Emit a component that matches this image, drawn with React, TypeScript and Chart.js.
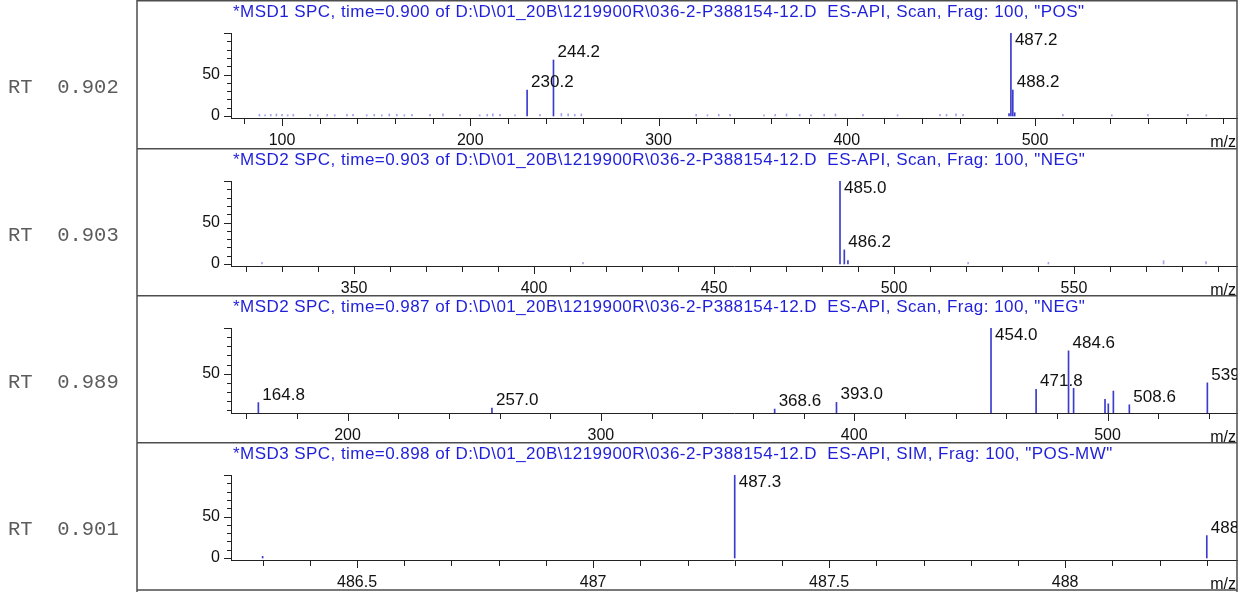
import React, { useEffect, useRef } from "react";
import { Chart, registerables } from "chart.js";

Chart.register(...registerables);

const FONT = '"Liberation Sans", Arial, sans-serif';
const MONO = '"Liberation Mono", "Courier New", monospace';
const PEAK_COLOR = "#3b3bcc";
const NOISE_COLOR = "#a4a4ee";
const TITLE_COLOR = "#1f1fd9";

// ---------- Panel 1 ----------
const P1_TITLE = '*MSD1 SPC, time=0.900 of D:\\D\\01_20B\\1219900R\\036-2-P388154-12.D  ES-API, Scan, Frag: 100, "POS"';
const P1_RT = "RT  0.902";
const P1_PEAK_MZ = [230.2, 244.2, 486.2, 487.2, 488.2, 489.2];
const P1_PEAK_INT = [31.3, 67.5, 3, 100, 31.3, 4];
const P1_PEAK_LABEL = ["230.2", "244.2", "", "487.2", "488.2", ""];
const P1_NOISE_MZ = [88, 91, 94, 97, 100, 103, 106, 115, 119, 124, 128, 134.5, 137.7, 145, 149, 153, 157, 161, 165, 169, 178.6, 185.5, 194.6, 205, 209, 212, 215.8, 223.8, 237, 248.4, 252, 255.5, 259, 320, 326, 332, 338, 356, 362, 368, 375, 381, 388, 394, 408.6, 427, 449.5, 453, 458, 461.8, 514.8, 540.8, 560, 581.2, 591];
const P1_NOISE_INT = [2, 1.5, 2, 2.5, 2, 1.5, 2, 2, 1.5, 2, 1.5, 2, 2, 1.5, 2, 1.5, 2.5, 2, 1.5, 2, 2, 2.5, 2, 1.5, 2, 2.5, 2, 1.5, 2, 3, 2.5, 2, 2.5, 2, 1.5, 2, 2, 1.5, 2, 2.5, 2, 1.5, 2, 2.5, 2, 1.5, 2, 2, 2.5, 2, 2, 1.5, 2, 2, 1.5];
const P1_X_RANGE = [72.9, 607.3];
const P1_X_STEP = 20;
const P1_X_LABELS = [100, 200, 300, 400, 500];

// ---------- Panel 2 ----------
const P2_TITLE = '*MSD2 SPC, time=0.903 of D:\\D\\01_20B\\1219900R\\036-2-P388154-12.D  ES-API, Scan, Frag: 100, "NEG"';
const P2_RT = "RT  0.903";
const P2_PEAK_MZ = [485.0, 486.2, 487.2];
const P2_PEAK_INT = [100, 17, 4];
const P2_PEAK_LABEL = ["485.0", "486.2", ""];
const P2_NOISE_MZ = [324.4, 413.6, 520.6, 542.9, 574.9, 586.7];
const P2_NOISE_INT = [2, 2, 2, 2, 4, 3];
const P2_X_RANGE = [315.8, 595.3];
const P2_X_STEP = 10;
const P2_X_LABELS = [350, 400, 450, 500, 550];

// ---------- Panel 3 ----------
const P3_TITLE = '*MSD2 SPC, time=0.987 of D:\\D\\01_20B\\1219900R\\036-2-P388154-12.D  ES-API, Scan, Frag: 100, "NEG"';
const P3_RT = "RT  0.989";
const P3_PEAK_MZ = [164.8, 257.0, 368.6, 393.0, 454.0, 471.8, 484.6, 486.6, 499.0, 500.3, 502.3, 508.6, 539.4];
const P3_PEAK_INT = [18.4, 12.5, 11.3, 18.6, 100, 33, 75, 34, 22, 17, 31, 16, 40];
const P3_PEAK_LABEL = ["164.8", "257.0", "368.6", "393.0", "454.0", "471.8", "484.6", "", "", "", "", "508.6", "539.4"];
const P3_NOISE_MZ: number[] = [];
const P3_NOISE_INT: number[] = [];
const P3_X_RANGE = [154.0, 551.1];
const P3_X_STEP = 20;
const P3_X_LABELS = [200, 300, 400, 500];

// ---------- Panel 4 ----------
const P4_TITLE = '*MSD3 SPC, time=0.898 of D:\\D\\01_20B\\1219900R\\036-2-P388154-12.D  ES-API, SIM, Frag: 100, "POS-MW"';
const P4_RT = "RT  0.901";
const P4_PEAK_MZ = [486.3, 487.3, 488.3];
const P4_PEAK_INT = [2, 100, 27];
const P4_PEAK_LABEL = ["", "487.3", "488.3"];
const P4_NOISE_MZ: number[] = [];
const P4_NOISE_INT: number[] = [];
const P4_X_RANGE = [486.233, 488.364];
const P4_X_STEP = 0.1;
const P4_X_LABELS = [486.5, 487, 487.5, 488];

// ---------- Y axes ----------
const Y_RANGE_FULL = [-2.4, 100];
const Y_RANGE_ZOOM = [7, 100];
const Y_STEP = 10;
const Y_LABELS_FULL = [0, 50];
const Y_MAJOR_FULL = [0, 50, 100];
const Y_LABELS_ZOOM = [50];
const Y_MAJOR_ZOOM = [50, 100];

const PLOT_TOP = 33;
const AXIS_Y = 118;
const AXIS_LEFT = 231;
const BOX_LEFT = 137;
const BOX_RIGHT = 1237;
const WIDTH = 1244;
const LABEL_SIZE = 17;

function stepTicks(min: number, max: number, step: number) {
  const out: { value: number }[] = [];
  const k0 = Math.ceil(min / step - 1e-9);
  const k1 = Math.floor(max / step + 1e-9);
  for (let k = k0; k <= k1; k++) out.push({ value: +(k * step).toFixed(6) });
  return out;
}
const isIn = (arr: number[], v: number) => arr.some((a) => Math.abs(a - v) < 1e-6);
const fmt = (v: number) => String(+v.toFixed(6));

type PanelProps = {
  top: number;
  height: number;
  title: string;
  rt: string;
  peakMz: number[];
  peakInt: number[];
  peakLabel: string[];
  noiseMz: number[];
  noiseInt: number[];
  xRange: number[];
  xStep: number;
  xLabels: number[];
  yRange: number[];
  yLabels: number[];
  yMajor: number[];
  last?: boolean;
};

function Panel(p: PanelProps) {
  const ref = useRef<HTMLCanvasElement | null>(null);
  useEffect(() => {
    if (!ref.current) return;
    const H = p.height;
    const decor = {
      id: "decor",
      afterDraw(chart: any) {
        const ctx = chart.ctx as CanvasRenderingContext2D;
        const ca = chart.chartArea;
        const xs = chart.scales.x;
        const ys = chart.scales.y;
        ctx.save();
        // tick marks
        ctx.strokeStyle = "#222";
        ctx.lineWidth = 1;
        ctx.beginPath();
        xs.ticks.forEach((t: any) => {
          const px = Math.round(xs.getPixelForValue(t.value)) + 0.5;
          const len = isIn(p.xLabels, t.value) ? 8 : 6;
          ctx.moveTo(px, ca.bottom);
          ctx.lineTo(px, ca.bottom + len);
        });
        ys.ticks.forEach((t: any) => {
          const py = Math.round(ys.getPixelForValue(t.value)) + 0.5;
          const len = isIn(p.yMajor, t.value) ? 7 : 4;
          ctx.moveTo(ca.left - len, py);
          ctx.lineTo(ca.left, py);
        });
        ctx.stroke();

        // frame
        ctx.strokeStyle = "#4d4d4d";
        ctx.lineWidth = 1.5;
        ctx.beginPath();
        ctx.moveTo(BOX_LEFT, 0);
        ctx.lineTo(BOX_LEFT, H);
        ctx.moveTo(BOX_RIGHT, 0);
        ctx.lineTo(BOX_RIGHT, H);
        ctx.moveTo(BOX_LEFT, 0.75);
        ctx.lineTo(BOX_RIGHT, 0.75);
        if (p.last) {
          ctx.moveTo(BOX_LEFT, H - 2);
          ctx.lineTo(BOX_RIGHT, H - 2);
        }
        ctx.stroke();

        // title
        ctx.font = `17px ${FONT}`;
        (ctx as any).letterSpacing = "0.45px";
        ctx.fillStyle = TITLE_COLOR;
        ctx.textAlign = "left";
        ctx.textBaseline = "alphabetic";
        ctx.fillText(p.title, 233, 16.5);
        (ctx as any).letterSpacing = "0px";

        // m/z
        ctx.font = `16px ${FONT}`;
        ctx.fillStyle = "#111";
        ctx.textAlign = "right";
        ctx.fillText("m/z", BOX_RIGHT - 1, 146.5);

        // RT label
        ctx.font = `20.5px ${MONO}`;
        ctx.fillStyle = "#5c5c5c";
        ctx.textAlign = "left";
        ctx.fillText(p.rt, 8, 93.3);

        // peak labels
        ctx.beginPath();
        ctx.rect(BOX_LEFT, 0, BOX_RIGHT - BOX_LEFT, H);
        ctx.clip();
        ctx.font = `${LABEL_SIZE}px ${FONT}`;
        ctx.fillStyle = "#111";
        ctx.textAlign = "left";
        const meta = chart.getDatasetMeta(1);
        const cap = LABEL_SIZE * 0.72;
        meta.data.forEach((el: any, i: number) => {
          const lab = p.peakLabel[i];
          if (!lab) return;
          const { x, y } = el.getProps(["x", "y"], true);
          let base = y - 3;
          if (base - cap < ca.top) base = ca.top + cap;
          ctx.fillText(lab, x + 4, base);
        });
        ctx.restore();
      },
    };

    const chart = new Chart(ref.current, {
      type: "bar",
      data: {
        datasets: [
          {
            data: p.noiseMz.map((x, i) => ({ x, y: p.noiseInt[i] })),
            backgroundColor: NOISE_COLOR,
            barThickness: 1,
            borderWidth: 0,
            grouped: false,
            clip: 0,
          } as any,
          {
            data: p.peakMz.map((x, i) => ({ x, y: p.peakInt[i] })),
            backgroundColor: PEAK_COLOR,
            barThickness: 1,
            borderWidth: 0,
            grouped: false,
            clip: 0,
          } as any,
        ],
      },
      options: {
        animation: false,
        responsive: false,
        events: [],
        layout: { padding: { left: 0, right: WIDTH - BOX_RIGHT, top: PLOT_TOP, bottom: 0 } },
        plugins: { legend: { display: false }, tooltip: { enabled: false } },
        scales: {
          x: {
            type: "linear",
            min: p.xRange[0],
            max: p.xRange[1],
            offset: false,
            grid: { display: false, drawTicks: false, offset: false },
            border: { display: true, color: "#222", width: 1 },
            afterBuildTicks: (s: any) => {
              s.ticks = stepTicks(p.xRange[0], p.xRange[1], p.xStep);
            },
            afterFit: (s: any) => {
              s.height = H - AXIS_Y;
            },
            ticks: {
              autoSkip: false,
              maxRotation: 0,
              padding: 13,
              color: "#111",
              font: { family: FONT, size: 16 },
              callback: (v: any) => (isIn(p.xLabels, Number(v)) ? fmt(Number(v)) : ""),
            },
          },
          y: {
            type: "linear",
            min: p.yRange[0],
            max: p.yRange[1],
            grid: { display: false, drawTicks: false },
            border: { display: true, color: "#222", width: 1 },
            afterBuildTicks: (s: any) => {
              s.ticks = stepTicks(p.yRange[0], p.yRange[1], Y_STEP);
            },
            afterFit: (s: any) => {
              s.width = AXIS_LEFT;
            },
            ticks: {
              autoSkip: false,
              padding: 11,
              color: "#111",
              font: { family: FONT, size: 16 },
              callback: (v: any) => (isIn(p.yLabels, Number(v)) ? fmt(Number(v)) : ""),
            },
          },
        },
      } as any,
      plugins: [decor],
    });
    return () => chart.destroy();
  }, []);
  return (
    <canvas
      ref={ref}
      width={WIDTH}
      height={p.height}
      style={{ position: "absolute", left: 0, top: p.top, display: "block" }}
    />
  );
}

export default function App() {
  return (
    <div style={{ position: "absolute", left: 0, top: 0, width: WIDTH, height: 592, background: "#fff" }}>
      <Panel top={0} height={148} title={P1_TITLE} rt={P1_RT}
        peakMz={P1_PEAK_MZ} peakInt={P1_PEAK_INT} peakLabel={P1_PEAK_LABEL}
        noiseMz={P1_NOISE_MZ} noiseInt={P1_NOISE_INT}
        xRange={P1_X_RANGE} xStep={P1_X_STEP} xLabels={P1_X_LABELS}
        yRange={Y_RANGE_FULL} yLabels={Y_LABELS_FULL} yMajor={Y_MAJOR_FULL} />
      <Panel top={148} height={147} title={P2_TITLE} rt={P2_RT}
        peakMz={P2_PEAK_MZ} peakInt={P2_PEAK_INT} peakLabel={P2_PEAK_LABEL}
        noiseMz={P2_NOISE_MZ} noiseInt={P2_NOISE_INT}
        xRange={P2_X_RANGE} xStep={P2_X_STEP} xLabels={P2_X_LABELS}
        yRange={Y_RANGE_FULL} yLabels={Y_LABELS_FULL} yMajor={Y_MAJOR_FULL} />
      <Panel top={295} height={147} title={P3_TITLE} rt={P3_RT}
        peakMz={P3_PEAK_MZ} peakInt={P3_PEAK_INT} peakLabel={P3_PEAK_LABEL}
        noiseMz={P3_NOISE_MZ} noiseInt={P3_NOISE_INT}
        xRange={P3_X_RANGE} xStep={P3_X_STEP} xLabels={P3_X_LABELS}
        yRange={Y_RANGE_ZOOM} yLabels={Y_LABELS_ZOOM} yMajor={Y_MAJOR_ZOOM} />
      <Panel top={442} height={150} title={P4_TITLE} rt={P4_RT}
        peakMz={P4_PEAK_MZ} peakInt={P4_PEAK_INT} peakLabel={P4_PEAK_LABEL}
        noiseMz={P4_NOISE_MZ} noiseInt={P4_NOISE_INT}
        xRange={P4_X_RANGE} xStep={P4_X_STEP} xLabels={P4_X_LABELS}
        yRange={Y_RANGE_FULL} yLabels={Y_LABELS_FULL} yMajor={Y_MAJOR_FULL} last />
    </div>
  );
}
